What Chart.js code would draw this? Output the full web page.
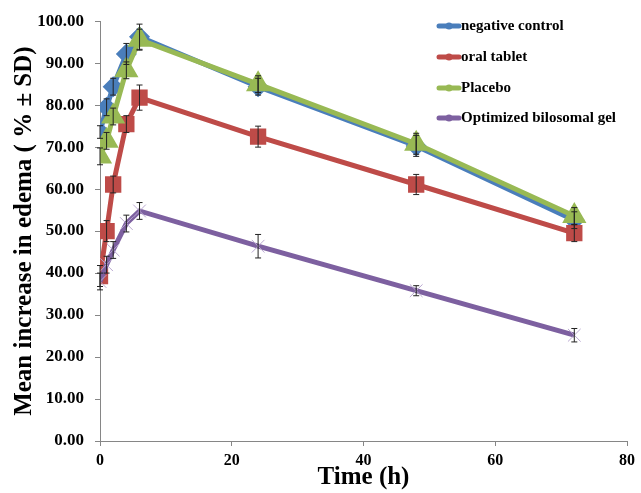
<!DOCTYPE html>
<html>
<head>
<meta charset="utf-8">
<script src="https://cdn.jsdelivr.net/npm/chart.js@4.4.1/dist/chart.umd.min.js"></script>
<style>
  html, body { margin: 0; padding: 0; background: #fff; }
  #wrap { width: 641px; height: 493px; }
</style>
</head>
<body>
<div id="wrap"><canvas id="edemaChart"></canvas></div>
<script>
var timeH = [0, 1, 2, 4, 6, 24, 48, 72];

var negControl = [73.6, 79.5, 84.4, 92.2, 96.3, 84.4, 70.3, 52.6];
var oralTablet = [39.3, 50.0, 61.1, 75.5, 81.8, 72.5, 61.1, 49.5];
var placebo    = [67.8, 71.5, 77.3, 88.3, 95.6, 85.0, 70.8, 53.6];
var bilosomal  = [38.0, 42.0, 45.5, 51.8, 54.8, 46.4, 35.8, 25.2];

var sdNeg  = [1.5, 2.0, 2.0, 2.5, 3.0, 2.0, 2.5, 2.0];
var sdOral = [2.5, 2.5, 2.0, 2.0, 3.0, 2.5, 2.4, 2.0];
var sdPla  = [2.0, 2.0, 2.0, 2.0, 2.5, 2.0, 2.5, 2.0];
var sdBilo = [2.0, 2.0, 2.0, 2.0, 2.0, 2.8, 1.2, 1.6];

var yTicks = [0, 10, 20, 30, 40, 50, 60, 70, 80, 90, 100];
var xTicks = [0, 20, 40, 60, 80];

function points(ys) {
  return timeH.map(function (t, i) { return { x: t, y: ys[i] }; });
}

var serif = "'Liberation Serif', 'Times New Roman', serif";

// error bars drawn through the scales
var errorBars = {
  id: 'errorBars',
  afterDatasetsDraw: function (chart) {
    var ctx = chart.ctx;
    var xs = chart.scales.x, ys = chart.scales.y;
    ctx.save();
    ctx.strokeStyle = '#222';
    ctx.lineWidth = 1;
    chart.data.datasets.forEach(function (ds) {
      ds.data.forEach(function (p, i) {
        var sd = ds.sd[i];
        var px = xs.getPixelForValue(p.x);
        var top = ys.getPixelForValue(p.y + sd);
        var bot = ys.getPixelForValue(p.y - sd);
        ctx.beginPath();
        ctx.moveTo(px, top); ctx.lineTo(px, bot);
        ctx.moveTo(px - 3, top); ctx.lineTo(px + 3, top);
        ctx.moveTo(px - 3, bot); ctx.lineTo(px + 3, bot);
        ctx.stroke();
      });
    });
    ctx.restore();
  }
};

// legend inside plot, top right
var insideLegend = {
  id: 'insideLegend',
  afterDraw: function (chart) {
    var ctx = chart.ctx;
    var x0 = 439, rowY = [26, 57, 88, 118];
    ctx.save();
    ctx.font = 'bold 15px ' + serif;
    ctx.textBaseline = 'middle';
    ctx.fillStyle = '#000';
    chart.data.datasets.forEach(function (ds, i) {
      var y = rowY[i];
      ctx.strokeStyle = ds.borderColor;
      ctx.lineWidth = 5;
      ctx.lineCap = 'round';
      ctx.beginPath();
      ctx.moveTo(x0, y); ctx.lineTo(x0 + 20, y);
      ctx.stroke();
      ctx.fillStyle = ds.pointBackgroundColor;
      ctx.beginPath();
      ctx.arc(x0 + 10, y, 3.5, 0, Math.PI * 2);
      ctx.fill();
      ctx.fillStyle = '#000';
      ctx.fillText(ds.label, x0 + 22, y);
    });
    ctx.restore();
  }
};

new Chart(document.getElementById('edemaChart').getContext('2d'), {
  type: 'line',
  data: {
    datasets: [{
      label: 'negative control',
      data: points(negControl),
      sd: sdNeg,
      borderColor: '#4a7ebb',
      backgroundColor: '#4a7ebb',
      pointBackgroundColor: '#4a7ebb',
      pointBorderColor: '#4a7ebb',
      pointStyle: 'rectRot',
      pointRadius: 7,
      borderWidth: 5,
      order: 4
    }, {
      label: 'oral tablet',
      data: points(oralTablet),
      sd: sdOral,
      borderColor: '#be4b48',
      backgroundColor: '#be4b48',
      pointBackgroundColor: '#be4b48',
      pointBorderColor: '#be4b48',
      pointStyle: 'rect',
      pointRadius: 8,
      borderWidth: 5,
      order: 3
    }, {
      label: 'Placebo',
      data: points(placebo),
      sd: sdPla,
      borderColor: '#98b954',
      backgroundColor: '#98b954',
      pointBackgroundColor: '#98b954',
      pointBorderColor: '#98b954',
      pointStyle: 'triangle',
      pointRadius: 9,
      borderWidth: 5,
      order: 2
    }, {
      label: 'Optimized bilosomal gel',
      data: points(bilosomal),
      sd: sdBilo,
      borderColor: '#7d60a0',
      backgroundColor: '#7d60a0',
      pointBackgroundColor: '#7d60a0',
      pointBorderColor: '#b9a8d0',
      pointBorderWidth: 1,
      pointStyle: 'crossRot',
      pointRadius: 9,
      borderWidth: 5,
      order: 1
    }]
  },
  options: {
    responsive: true,
    maintainAspectRatio: false,
    animation: false,
    layout: { padding: { left: 10, right: 13, top: 18, bottom: 0 } },
    plugins: {
      legend: { display: false },
      tooltip: { enabled: false }
    },
    elements: { line: { tension: 0 } },
    scales: {
      x: {
        type: 'linear',
        min: 0, max: 80,
        afterBuildTicks: function (s) { s.ticks = xTicks.map(function (v) { return { value: v }; }); },
        grid: { drawOnChartArea: false, color: '#868686', tickLength: 5 },
        border: { color: '#868686' },
        ticks: { color: '#000', font: { family: serif, size: 16, weight: 'bold' }, padding: 5 },
        title: { display: true, text: 'Time (h)', color: '#000', font: { family: serif, size: 25, weight: 'bold' }, padding: { top: 0, bottom: 0 } },
        afterFit: function (s) { s.height = 52; }
      },
      y: {
        min: 0, max: 100,
        afterBuildTicks: function (s) { s.ticks = yTicks.map(function (v) { return { value: v }; }); },
        grid: { drawOnChartArea: false, color: '#868686', tickLength: 5 },
        border: { color: '#868686' },
        ticks: {
          color: '#000', font: { family: serif, size: 17, weight: 'bold' }, padding: 11,
          callback: function (v) { return v.toFixed(2); }
        },
        title: { display: true, text: 'Mean increase in edema ( % ± SD)', color: '#000', font: { family: serif, size: 25, weight: 'bold' }, padding: { top: 0, bottom: 0 } },
        afterFit: function (s) { s.width = 90; }
      }
    }
  },
  plugins: [errorBars, insideLegend]
});
</script>
</body>
</html>
